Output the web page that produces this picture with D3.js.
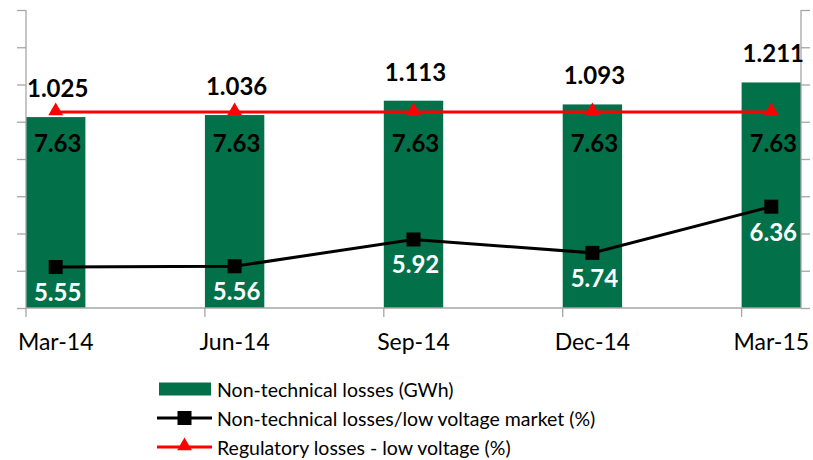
<!DOCTYPE html>
<html>
<head>
<meta charset="utf-8">
<script src="https://cdn.jsdelivr.net/npm/d3@7"></script>
<style>
  html, body { margin: 0; padding: 0; background: #fff; }
  svg { display: block; font-family: Lato, "Open Sans", sans-serif; }
</style>
</head>
<body>
<svg id="chart" width="813" height="460"></svg>
<script>
// Quarterly periods
const categories = ["Mar-14", "Jun-14", "Sep-14", "Dec-14", "Mar-15"];
// Non-technical losses (GWh) — bars, left axis
const lossesGWh = [1.025, 1.036, 1.113, 1.093, 1.211];
// Non-technical losses / low voltage market (%) — black line, right axis
const lossesShare = [5.55, 5.56, 5.92, 5.74, 6.36];
// Regulatory losses - low voltage (%) — red line, right axis
const regulatory = [7.63, 7.63, 7.63, 7.63, 7.63];
// Axis tick values (unlabelled ticks)
const leftTicks = [0, 0.2, 0.4, 0.6, 0.8, 1.0, 1.2, 1.4, 1.6];
const rightTicks = [5, 5.5, 6, 6.5, 7, 7.5, 8, 8.5, 9];
const seriesNames = [
  "Non-technical losses (GWh)",
  "Non-technical losses/low voltage market (%)",
  "Regulatory losses - low voltage (%)"
];

const GREEN = "#02714A", RED = "#FF0000", AXIS = "#A6A6A6";
const plot = { left: 26, right: 801, top: 10, bottom: 308 };

const svg = d3.select("#chart");

const x = d3.scalePoint().domain(categories)
  .range([plot.left, plot.right]).padding(0.166);
const half = x.step() * 0.166;       // half bar width
const yL = d3.scaleLinear().domain([0, 1.6]).range([plot.bottom, plot.top]);
const yR = d3.scaleLinear().domain([5, 9]).range([plot.bottom, plot.top]);

// Bars
svg.append("g").selectAll("rect").data(lossesGWh).join("rect")
  .attr("x", (d, i) => x(categories[i]) - half)
  .attr("width", half * 2)
  .attr("y", d => yL(d))
  .attr("height", d => yL(0) - yL(d))
  .attr("fill", GREEN);

// Axes
const leftAxis = d3.axisLeft(yL).tickValues(leftTicks).tickSize(9).tickFormat("");
const rightAxis = d3.axisRight(yR).tickValues(rightTicks).tickSize(9).tickFormat("");
const gL = svg.append("g").attr("transform", `translate(${plot.left},0)`).call(leftAxis);
const gR = svg.append("g").attr("transform", `translate(${plot.right},0)`).call(rightAxis);
[gL, gR].forEach(g => {
  g.select(".domain").attr("d", `M0,${plot.top}V${plot.bottom}`).attr("stroke", AXIS).attr("stroke-width", 1.3);
  g.selectAll(".tick line").attr("stroke", AXIS).attr("stroke-width", 1.3);
});

// Category axis: ticks at category boundaries, labels at centres
const gB = svg.append("g");
gB.append("line").attr("x1", plot.left).attr("x2", plot.right)
  .attr("y1", plot.bottom).attr("y2", plot.bottom)
  .attr("stroke", AXIS).attr("stroke-width", 1.3);
gB.selectAll("line.tk").data(categories).join("line").attr("class", "tk")
  .attr("x1", d => x(d) - half).attr("x2", d => x(d) - half)
  .attr("y1", plot.bottom).attr("y2", plot.bottom + 9)
  .attr("stroke", AXIS).attr("stroke-width", 1.3);
gB.selectAll("text").data(categories).join("text")
  .attr("x", d => x(d)).attr("y", 350)
  .attr("text-anchor", "middle").attr("font-size", 23).attr("fill", "#000")
  .text(d => d);

// Lines
const line = yS => d3.line().x((d, i) => x(categories[i])).y(d => yS(d));
svg.append("path").datum(regulatory).attr("d", line(yR))
  .attr("fill", "none").attr("stroke", RED).attr("stroke-width", 3);
svg.append("path").datum(lossesShare).attr("d", line(yR))
  .attr("fill", "none").attr("stroke", "#000").attr("stroke-width", 3);

// Markers
const tri = d3.symbol().type(d3.symbolTriangle).size(95);
svg.append("g").selectAll("path").data(regulatory).join("path")
  .attr("d", tri)
  .attr("transform", (d, i) => `translate(${x(categories[i])},${yR(d) - 1})`)
  .attr("fill", RED);
svg.append("g").selectAll("rect").data(lossesShare).join("rect")
  .attr("x", (d, i) => x(categories[i]) - 7).attr("y", d => yR(d) - 7)
  .attr("width", 14).attr("height", 14).attr("fill", "#000");

// Data labels
const lbl = { "font-size": 24, "font-weight": 700, "text-anchor": "middle" };
function labels(data, fx, fy, fill) {
  const t = svg.append("g").selectAll("text").data(data).join("text")
    .attr("x", fx).attr("y", fy).attr("fill", fill).text(d => d.toFixed(d < 2 ? 3 : 2));
  Object.entries(lbl).forEach(([k, v]) => t.attr(k, v));
}
labels(lossesGWh, (d, i) => x(categories[i]) + 2, d => yL(d) - 20, "#000");
labels(regulatory, (d, i) => x(categories[i]) + 2, d => yR(d) + 40, "#000");
labels(lossesShare, (d, i) => x(categories[i]) + 2, d => yR(d) + 34, "#fff");

// Legend
const lg = svg.append("g");
const rows = [389, 418, 447];
lg.append("rect").attr("x", 159).attr("y", rows[0] - 6.5).attr("width", 52).attr("height", 13).attr("fill", GREEN);
lg.append("line").attr("x1", 157).attr("x2", 212).attr("y1", rows[1]).attr("y2", rows[1])
  .attr("stroke", "#000").attr("stroke-width", 3);
lg.append("rect").attr("x", 184.5 - 7).attr("y", rows[1] - 7).attr("width", 14).attr("height", 14).attr("fill", "#000");
lg.append("line").attr("x1", 157).attr("x2", 212).attr("y1", rows[2]).attr("y2", rows[2])
  .attr("stroke", RED).attr("stroke-width", 3);
lg.append("path").attr("d", tri).attr("transform", `translate(184.5,${rows[2] - 1})`).attr("fill", RED);
lg.selectAll("text").data(seriesNames).join("text")
  .attr("x", 217).attr("y", (d, i) => rows[i] + 7.5)
  .attr("font-size", 19.5).attr("fill", "#000").text(d => d);
</script>
</body>
</html>
